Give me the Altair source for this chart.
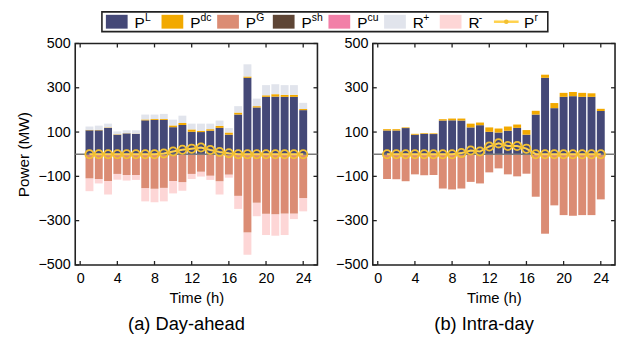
import altair as alt
import pandas as pd

FONT = "Liberation Sans"

hours = list(range(1, 25))

# ---- Day-ahead (a) ----
da_PL  = [108, 108, 119, 88, 94, 92, 153, 155, 155, 122, 132, 101, 100, 106, 119, 88, 179, 345, 211, 259, 260, 259, 259, 199]
da_Pdc = [2, 2, 2, 2, 1, 1, 4, 4, 4, 8, 9, 11, 6, 7, 9, 10, 9, 6, 6, 7, 11, 9, 9, 5]
da_Rup = [15, 19, 17, 13, 13, 15, 22, 20, 23, 26, 33, 26, 32, 25, 24, 20, 29, 55, 34, 46, 45, 44, 44, 28]
da_PG  = [109, 112, 121, 89, 94, 94, 153, 156, 152, 121, 126, 89, 79, 97, 122, 92, 188, 353, 219, 269, 271, 268, 268, 198]
da_Rdn = [58, 20, 61, 26, 25, 22, 60, 61, 61, 56, 39, 23, 22, 19, 60, 14, 59, 101, 61, 96, 97, 97, 25, 60]
da_Pr  = [0, 0, 0, 0, 0, 0, 0, 0, 3, 12, 20, 25, 30, 19, 10, 4, 0, 0, 0, 0, 0, 0, 0, 0]

# ---- Intra-day (b) ----
id_PL  = [107, 107, 118, 88, 92, 91, 152, 153, 152, 121, 131, 101, 98, 106, 119, 88, 179, 345, 208, 259, 262, 259, 259, 195]
id_Pdc = [6, 6, 3, 4, 3, 3, 6, 8, 9, 17, 12, 20, 18, 19, 15, 21, 17, 14, 23, 18, 19, 18, 16, 10]
id_Rup = [0] * 24
id_PG  = [112, 113, 122, 91, 95, 94, 155, 159, 155, 125, 132, 82, 64, 91, 100, 88, 192, 359, 231, 275, 278, 275, 275, 204]
id_Rdn = [0] * 24
id_Pr  = [0, 0, 0, 0, 0, 0, 0, 0, 5, 17, 12, 35, 49, 37, 37, 25, 0, 0, 0, 0, 0, 0, 0, 0]

y_ticks = [-500, -300, -100, 100, 300, 500]
x_ticks = [0, 4, 8, 12, 16, 20, 24]

leg_base = ["P", "P", "P", "P", "P", "R", "R", "P"]
leg_sup = ["L", "dc", "G", "sh", "cu", "+", "-", "r"]
leg_colors = ["#444877", "#F2A900", "#DB8C74", "#5E4535", "#F27FA8", "#E1E4EC", "#FDD6D6", "#FFD24D"]
C_PL, C_DC, C_PG, C_SH, C_CU, C_RU, C_RD, C_PR = leg_colors
C_PR_PT = "#F2C031"

W, H = 245, 224
xsc = alt.Scale(domain=[0, 25], nice=False, zero=False)
ysc = alt.Scale(domain=[-500, 500], nice=False)


def make_df(PL, Pdc, Rup, PG, Rdn, Pr):
    df = pd.DataFrame({"hour": hours, "PL": PL, "Pdc": Pdc, "Rup": Rup,
                       "PG": PG, "Rdn": Rdn, "Pr": Pr})
    df["dc_top"] = df["PL"] + df["Pdc"]
    df["r_top"] = df["dc_top"] + df["Rup"]
    df["pg_bot"] = -df["PG"]
    df["r_bot"] = -(df["PG"] + df["Rdn"])
    df["zero"] = 0
    return df


def panel(df, title, ytitle, with_r):
    yaxis = alt.Axis(values=y_ticks, tickSize=0, domain=False, grid=False,
                     labelPadding=5, labelFontSize=14.5, title=ytitle,
                     titleFontSize=15.5, titleFontWeight="normal", titlePadding=7)
    xaxis = alt.Axis(values=x_ticks, tickSize=0, domain=False, grid=False,
                     labelPadding=7, labelFontSize=14.5, labelFlush=False,
                     title="Time (h)", titleFontSize=15, titleFontWeight="normal",
                     titlePadding=5)

    def X(f="hour"):
        return alt.X(f"{f}:Q", scale=xsc, axis=xaxis)

    def Y(f):
        return alt.Y(f"{f}:Q", scale=ysc, axis=yaxis)

    base = alt.Chart(df)
    layers = []
    if with_r:
        layers.append(base.mark_bar(size=8, color=C_RD).encode(x=X(), y=Y("pg_bot"), y2="r_bot"))
    layers.append(base.mark_bar(size=8, color=C_PG).encode(x=X(), y=Y("zero"), y2="pg_bot"))
    layers.append(base.mark_bar(size=8, color=C_PL).encode(x=X(), y=Y("zero"), y2="PL"))
    layers.append(base.mark_bar(size=8, color=C_DC).encode(x=X(), y=Y("PL"), y2="dc_top"))
    if with_r:
        layers.append(base.mark_bar(size=8, color=C_RU).encode(x=X(), y=Y("dc_top"), y2="r_top"))

    zdf = pd.DataFrame({"zero": [0]})
    layers.append(alt.Chart(zdf).mark_rule(color="#7a7a7a", strokeWidth=1.5).encode(y=Y("zero")))
    layers.append(base.mark_line(color=C_PR, strokeWidth=2).encode(x=X(), y=Y("Pr")))
    layers.append(base.mark_point(shape="circle", filled=False, color=C_PR_PT, size=70,
                                  strokeWidth=1.8, opacity=1).encode(x=X(), y=Y("Pr")))

    ytdf = pd.DataFrame({"v": y_ticks})
    xtdf = pd.DataFrame({"v": x_ticks})
    tk = dict(color="#222222", strokeWidth=1.3)
    layers.append(alt.Chart(ytdf).mark_rule(**tk).encode(y=Y("v"), x=alt.value(0), x2=alt.value(4)))
    layers.append(alt.Chart(ytdf).mark_rule(**tk).encode(y=Y("v"), x=alt.value(W - 4), x2=alt.value(W)))
    layers.append(alt.Chart(xtdf).mark_rule(**tk).encode(x=X("v"), y=alt.value(H - 4), y2=alt.value(H)))
    layers.append(alt.Chart(xtdf).mark_rule(**tk).encode(x=X("v"), y=alt.value(0), y2=alt.value(4)))

    return alt.layer(*layers).properties(
        width=W, height=H,
        title=alt.TitleParams(title, orient="bottom", fontSize=18.5, font=FONT,
                              fontWeight="normal", color="black", dx=-10, offset=10),
    )


left = panel(make_df(da_PL, da_Pdc, da_Rup, da_PG, da_Rdn, da_Pr), "(a) Day-ahead", "Power (MW)", True)
right = panel(make_df(id_PL, id_Pdc, id_Rup, id_PG, id_Rdn, id_Pr), "(b) Intra-day", None, False)

# ---- legend ----
leg_df = pd.DataFrame({"idx": list(range(8)), "base": leg_base, "sup": leg_sup, "color": leg_colors})
lsc = alt.Scale(domain=[0, 7], range=[42, 436])
LX = alt.X("idx:Q", scale=lsc, axis=None)
LH = 20
rect_path = "M-1,-0.636L1,-0.636L1,0.636L-1,0.636Z"

frame = alt.Chart(pd.DataFrame({"a": [0]})).mark_rect(
    fill="white", stroke="#222222", strokeWidth=1.6).encode(
    x=alt.value(27), x2=alt.value(478), y=alt.value(0), y2=alt.value(LH))
sw = alt.Chart(leg_df).transform_filter("datum.idx < 7").mark_point(
    shape=rect_path, filled=True, size=484, opacity=1, strokeWidth=0).encode(
    x=LX, y=alt.value(LH / 2), color=alt.Color("color:N", scale=None))
prl = alt.Chart(leg_df).transform_filter("datum.idx == 7").mark_point(
    shape="M-1,0L1,0", filled=False, size=625, strokeWidth=2.5, color=C_PR, opacity=1).encode(
    x=LX, y=alt.value(LH / 2))
prp = alt.Chart(leg_df).transform_filter("datum.idx == 7").mark_point(
    shape="circle", filled=True, size=22, color=C_PR_PT, opacity=1).encode(
    x=LX, y=alt.value(LH / 2))
txt = alt.Chart(leg_df).mark_text(align="left", baseline="middle", dx=18, dy=1,
                                  fontSize=15.5, font=FONT, color="black").encode(
    x=LX, y=alt.value(LH / 2), text="base:N")
sup = alt.Chart(leg_df).mark_text(align="left", baseline="middle", dx=28.5, dy=-4,
                                  fontSize=10.5, font=FONT, color="black").encode(
    x=LX, y=alt.value(LH / 2), text="sup:N")
legend = alt.layer(frame, sw, prl, prp, txt, sup).properties(
    width=545, height=LH, view=alt.ViewConfig(stroke="transparent"))

chart = alt.vconcat(
    legend,
    alt.hconcat(left, right, spacing=15),
    spacing=1,
).properties(
    padding={"left": 7, "top": 0, "right": 0, "bottom": 0}
).configure_view(
    stroke="#222222", strokeWidth=1.6
).configure_axis(
    labelFont=FONT, titleFont=FONT, labelColor="black", titleColor="black"
)

chart.save("out.html", embed_options={"renderer": "svg", "actions": False})
